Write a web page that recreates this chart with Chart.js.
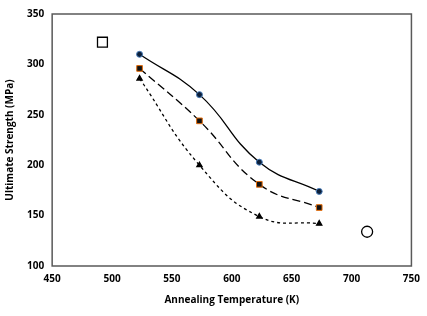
<!DOCTYPE html>
<html>
<head>
<meta charset="utf-8">
<script src="https://cdn.jsdelivr.net/npm/chart.js@4"></script>
<style>
  html, body { margin: 0; padding: 0; background: #fff; }
  #wrap { width: 427px; height: 316px; }
</style>
</head>
<body>
<div id="wrap"><canvas id="strength_chart" width="427" height="316"></canvas></div>
<script>
const temps = [523, 573, 623, 673];
const strengthA = [310, 270, 203, 174];
const strengthB = [296, 244, 181, 158];
const strengthC = [286, 200, 149, 142];
const squareMark = [{x: 492, y: 322}];
const circleMark = [{x: 713, y: 134}];
const xTicks = [450, 500, 550, 600, 650, 700, 750];
const yTicks = [100, 150, 200, 250, 300, 350];

function toPoints(vals) {
  let pts = [];
  for (let i = 0; i < temps.length; i++) {
    pts.push({x: temps[i], y: vals[i]});
  }
  return pts;
}

const fontFam = "'Open Sans', sans-serif";

// draws the plot frame
const frame = {
  id: 'frame',
  afterDraw(chart) {
    const a = chart.chartArea;
    const ctx = chart.ctx;
    ctx.save();
    ctx.strokeStyle = '#595959';
    ctx.lineWidth = 1.5;
    ctx.strokeRect(a.left, a.top, a.right - a.left, a.bottom - a.top);
    ctx.restore();
  }
};

const config = {
  type: 'line',
  data: {
    datasets: [{
      data: toPoints(strengthA),
      borderColor: '#000',
      borderWidth: 1.3,
      backgroundColor: '#0b1f3a',
      pointBorderColor: '#4a7ebb',
      pointBorderWidth: 1,
      pointStyle: 'circle',
      pointRadius: 3,
      tension: 0.45
    }, {
      data: toPoints(strengthB),
      borderColor: '#000',
      borderWidth: 1.3,
      borderDash: [8, 4],
      backgroundColor: '#111',
      pointBorderColor: '#e46c0a',
      pointBorderWidth: 1,
      pointStyle: 'rect',
      pointRadius: 4,
      tension: 0.45
    }, {
      data: toPoints(strengthC),
      borderColor: '#000',
      borderWidth: 1.3,
      borderDash: [3, 3],
      backgroundColor: '#000',
      pointBorderColor: '#000',
      pointStyle: 'triangle',
      pointRadius: 3,
      tension: 0.45
    }, {
      data: squareMark,
      showLine: false,
      pointStyle: 'rect',
      pointRadius: 7,
      borderColor: '#000',
      pointBorderWidth: 1.3,
      backgroundColor: '#fff'
    }, {
      data: circleMark,
      showLine: false,
      pointStyle: 'circle',
      pointRadius: 5.5,
      borderColor: '#000',
      pointBorderWidth: 1.3,
      backgroundColor: '#fff'
    }]
  },
  options: {
    responsive: false,
    animation: false,
    layout: { padding: { left: 4, right: 14, top: 2, bottom: 10 } },
    plugins: { legend: { display: false }, tooltip: { enabled: false } },
    scales: {
      x: {
        type: 'linear',
        min: 450, max: 750,
        afterBuildTicks: function(axis) { axis.ticks = xTicks.map(v => ({value: v})); },
        grid: { display: false, drawTicks: false },
        border: { display: false },
        ticks: { color: '#000', font: { family: fontFam, size: 10, weight: 'bold' }, padding: 7, maxRotation: 0 },
        title: { display: true, text: 'Annealing Temperature (K)', color: '#000', font: { family: fontFam, size: 10, weight: 'bold' }, padding: { top: 2, bottom: 0 } }
      },
      y: {
        type: 'linear',
        min: 100, max: 350,
        afterBuildTicks: function(axis) { axis.ticks = yTicks.map(v => ({value: v})); },
        grid: { display: false, drawTicks: false },
        border: { display: false },
        ticks: { color: '#000', font: { family: fontFam, size: 10, weight: 'bold' }, padding: 8 },
        title: { display: true, text: 'Ultimate Strength (MPa)', color: '#000', font: { family: fontFam, size: 10, weight: 'bold' }, padding: { top: 0, bottom: 3 } }
      }
    }
  },
  plugins: [frame]
};

const strength_chart = new Chart(document.getElementById('strength_chart'), config);
</script>
</body>
</html>
